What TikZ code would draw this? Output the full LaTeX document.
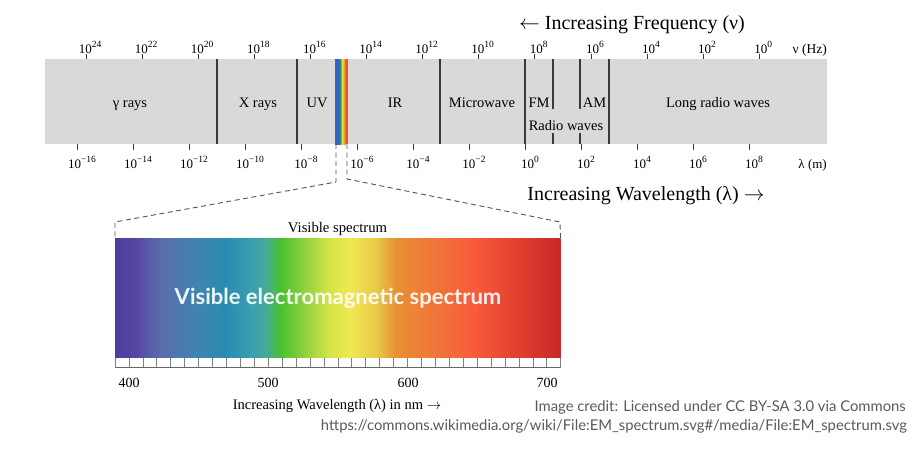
\documentclass[tikz,border=0pt]{standalone}
\usepackage{fontspec}
\setmainfont{Liberation Serif}
\newfontfamily\credfont{Lato}
\usetikzlibrary{calc}
\definecolor{barfill}{HTML}{D9D9D9}
\definecolor{divcol}{HTML}{3A3A3A}
\definecolor{credcol}{HTML}{5A5A5A}
\definecolor{dashcol}{HTML}{555555}
\definecolor{vA}{HTML}{4E3C9F}
\definecolor{vB}{HTML}{5646A4}
\definecolor{vC}{HTML}{5A6EAA}
\definecolor{vD}{HTML}{3C86B0}
\definecolor{vE}{HTML}{2A8AB0}
\definecolor{vF}{HTML}{3A9EB0}
\definecolor{vG}{HTML}{44AA9C}
\definecolor{vH}{HTML}{48C030}
\definecolor{vI}{HTML}{84CE3A}
\definecolor{vJ}{HTML}{D6E448}
\definecolor{vK}{HTML}{F0E850}
\definecolor{vL}{HTML}{E8C848}
\definecolor{vM}{HTML}{E89032}
\definecolor{vN}{HTML}{F07838}
\definecolor{vO}{HTML}{F85A3A}
\definecolor{vP}{HTML}{E03E2E}
\definecolor{vQ}{HTML}{C82828}
\definecolor{bBlue}{HTML}{3A5FC8}
\definecolor{bGreen}{HTML}{3AB04A}
\definecolor{bYellow}{HTML}{E8E040}
\definecolor{bOrange}{HTML}{F0A030}
\definecolor{bRed}{HTML}{F05030}
\newcommand\pw[1]{10\raisebox{0.42em}{\fontsize{9.5}{10}\selectfont #1}}
\begin{document}
\begin{tikzpicture}[x=1pt,y=-1pt,
  divider/.style={draw=divcol,line width=1.3pt},
  tickline/.style={draw=divcol,line width=0.8pt},
  ticklab/.style={font=\fontsize{13}{15}\selectfont,anchor=base,inner sep=0pt},
  bandlab/.style={font=\fontsize{14.5}{16}\selectfont,anchor=base,inner sep=0pt},
  titlelab/.style={font=\fontsize{20}{23}\selectfont,anchor=base,inner sep=0pt},
  nmlab/.style={font=\fontsize{14}{16}\selectfont,anchor=base,inner sep=0pt},
  zoomline/.style={draw=dashcol,line width=0.9pt,dash pattern=on 5pt off 3.5pt},
  credit/.style={font=\credfont\fontsize{14.8}{16}\selectfont,text=credcol,anchor=base east,inner sep=0pt}]
\useasboundingbox (0,0) rectangle (921,450);
\fill[white] (0,0) rectangle (921,450);

% ---- gray bar ----
\fill[barfill] (45,59) rectangle (827,144);
% visible band inside the bar
\shade[left color=bBlue,right color=bBlue] (335,59) rectangle (339,144);
\shade[left color=bBlue,right color=bGreen] (339,59) rectangle (340.5,144);
\shade[left color=bGreen,right color=bYellow] (340.5,59) rectangle (342.3,144);
\shade[left color=bYellow,right color=bOrange] (342.3,59) rectangle (344,144);
\shade[left color=bOrange,right color=bRed] (344,59) rectangle (345.5,144);
\fill[bRed] (345.5,59) rectangle (348,144);
\coordinate (bandL) at (336,144);
\coordinate (bandR) at (347,144);

% dividers
\foreach \x in {217,297,440,525,609}{\draw[divider] (\x,59) -- (\x,144);}
\foreach \x in {553,580}{\draw[divider] (\x,59) -- (\x,109); \draw[divider] (\x,133) -- (\x,144);}

% band labels
\node[bandlab] (gamma) at (130,107) {γ rays};
\node[bandlab] (xray) at (258,107) {X rays};
\node[bandlab] (uv) at (317,107) {UV};
\node[bandlab] (ir) at (395,107) {IR};
\node[bandlab] (micro) at (482,107) {Microwave};
\node[bandlab] (fm) at (539,107) {FM};
\node[bandlab] (am) at (594.5,107) {AM};
\node[bandlab] (radio) at (566,130) {Radio waves};
\node[bandlab] (longr) at (718,107) {Long radio waves};

% frequency ticks (top)
\foreach \k/\e in {0/24,1/22,2/20,3/18,4/16,5/14,6/12,7/10,8/8,9/6,10/4,11/2,12/0}{
  \pgfmathsetmacro\xx{86+56.1*\k}
  \draw[tickline] (\xx,54) -- (\xx,59);
  \node[ticklab] (f\k) at (\xx+4,53) {\pw{\e}};
}
\node[ticklab,anchor=base east,font=\fontsize{13.5}{15}\selectfont] (hz) at (827,53) {ν (Hz)};

% wavelength ticks (bottom)
\foreach \k/\e in {0/−16,1/−14,2/−12,3/−10,4/−8,5/−6,6/−4,7/−2,8/0,9/2,10/4,11/6,12/8}{
  \pgfmathsetmacro\xx{77+56*\k}
  \draw[tickline] (\xx,144) -- (\xx,150);
  \node[ticklab] (w\k) at (\xx+5,168) {\pw{\e}};
}
\node[ticklab,anchor=base east] (lm) at (827,168) {λ (m)};

% titles
\node[titlelab] (freqtitle) at (632,29) {$\leftarrow$ Increasing Frequency (ν)};
\node[titlelab] (wavetitle) at (646,200) {Increasing Wavelength (λ) $\rightarrow$};

% ---- visible spectrum ----
\shade[left color=vA,right color=vB] (115,238) rectangle (135,358);
\shade[left color=vB,right color=vC] (135,238) rectangle (162,358);
\shade[left color=vC,right color=vD] (162,238) rectangle (200,358);
\shade[left color=vD,right color=vE] (200,238) rectangle (225,358);
\shade[left color=vE,right color=vF] (225,238) rectangle (250,358);
\shade[left color=vF,right color=vG] (250,238) rectangle (265,358);
\shade[left color=vG,right color=vH] (265,238) rectangle (280,358);
\shade[left color=vH,right color=vI] (280,238) rectangle (300,358);
\shade[left color=vI,right color=vJ] (300,238) rectangle (330,358);
\shade[left color=vJ,right color=vK] (330,238) rectangle (350,358);
\shade[left color=vK,right color=vL] (350,238) rectangle (377,358);
\shade[left color=vL,right color=vM] (377,238) rectangle (396,358);
\shade[left color=vM,right color=vN] (396,238) rectangle (430,358);
\shade[left color=vN,right color=vO] (430,238) rectangle (475,358);
\shade[left color=vO,right color=vP] (475,238) rectangle (520,358);
\shade[left color=vP,right color=vQ] (520,238) rectangle (560.5,358);
\coordinate (specTL) at (115,238);
\coordinate (specTR) at (560.5,238);

\node[font=\credfont\bfseries\fontsize{22}{26}\selectfont,text=white,opacity=0.92,anchor=base,inner sep=0pt] (vistext) at (338,304) {Visible electromagnetic spectrum};

% ruler
\fill[white] (115,358) rectangle (560.5,367);
\foreach \n in {0,...,32}{
  \pgfmathsetmacro\xx{115+13.93*\n}
  \draw[draw=gray,line width=0.7pt] (\xx,358) -- (\xx,367);
}
\draw[draw=gray!80!black,line width=0.8pt] (115,367) -- (560.5,367);

\node[nmlab] (n400) at (129,387) {400};
\node[nmlab] (n500) at (268,387) {500};
\node[nmlab] (n600) at (408,387) {600};
\node[nmlab] (n700) at (547,387) {700};
\node[font=\fontsize{14.5}{16}\selectfont,anchor=base,inner sep=0pt] (nmtitle) at (337,409) {Increasing Wavelength (λ) in nm $\rightarrow$};
\node[font=\fontsize{14.7}{16}\selectfont,anchor=base,inner sep=0pt] (vislab) at (337.5,232) {Visible spectrum};

% zoom dashed lines
\coordinate (kL) at (336,182);
\coordinate (kR) at (347,179);
\coordinate (dL) at (115,222);
\coordinate (dR) at (560,222);
\draw[zoomline] (bandL) -- (kL) -- (dL) -- (specTL);
\draw[zoomline] (bandR) -- (kR) -- (dR) -- (specTR);

% credits
\node[credit] (cred1) at (906,411) {Image credit: Licensed under CC BY-SA 3.0 via Commons};
\node[credit] (cred2) at (907,430) {https://commons.wikimedia.org/wiki/File:EM\_spectrum.svg\#/media/File:EM\_spectrum.svg};
\end{tikzpicture}
\end{document}
